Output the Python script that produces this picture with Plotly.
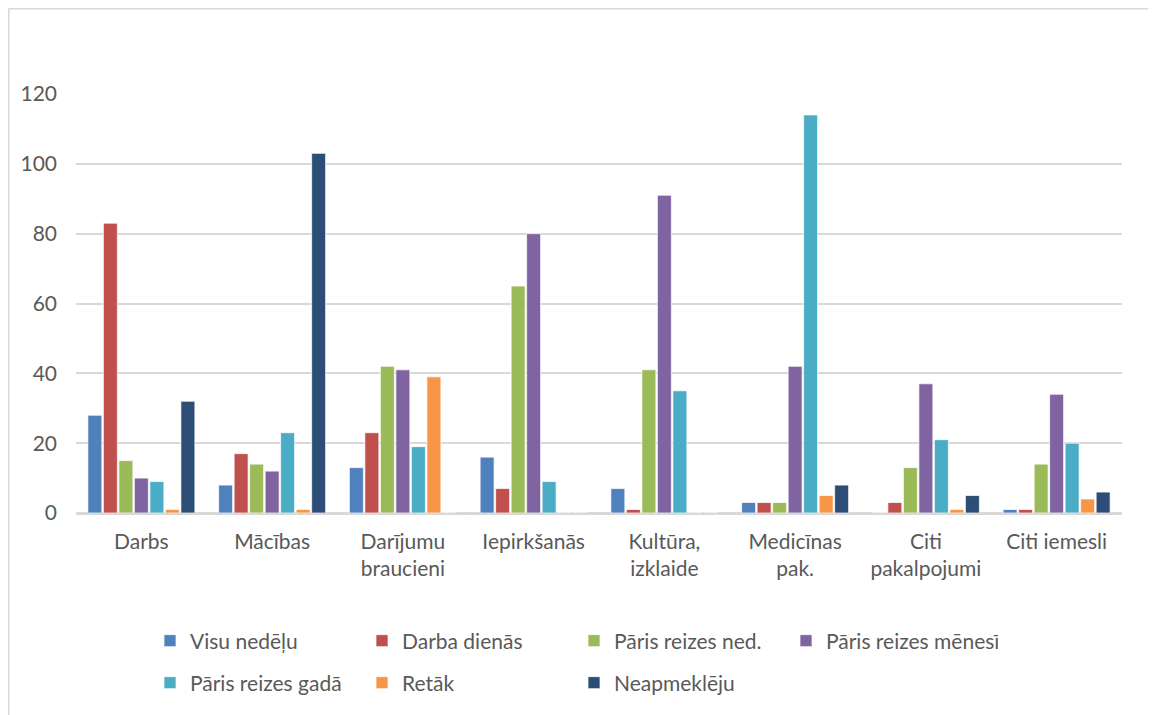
import plotly.graph_objects as go

categories = ["Darbs", "Mācības", "Darījumu<br>braucieni", "Iepirkšanās",
              "Kultūra,<br>izklaide", "Medicīnas<br>pak.", "Citi<br>pakalpojumi", "Citi iemesli"]

series_names = ["Visu nedēļu", "Darba dienās", "Pāris reizes ned.", "Pāris reizes mēnesī",
                "Pāris reizes gadā", "Retāk", "Neapmeklēju"]

visu_nedelu = [28, 8, 13, 16, 7, 3, 0, 1]
darba_dienas = [83, 17, 23, 7, 1, 3, 3, 1]
paris_ned = [15, 14, 42, 65, 41, 3, 13, 14]
paris_menesi = [10, 12, 41, 80, 91, 42, 37, 34]
paris_gada = [9, 23, 19, 9, 35, 114, 21, 20]
retak = [1, 1, 39, 0, 0, 5, 1, 4]
neapmekleju = [32, 103, 0, 0, 0, 8, 5, 6]

y_ticks = [0, 20, 40, 60, 80, 100, 120]

values = [visu_nedelu, darba_dienas, paris_ned, paris_menesi, paris_gada, retak, neapmekleju]
colors = ["#4F81BD", "#C0504D", "#9BBB59", "#8064A2", "#4BACC6", "#F79646", "#2C4D75"]

FONT = "Lato"
TXT = "#595959"
FS = 21

fig = go.Figure()
for i, (name, vals, col) in enumerate(zip(series_names, values, colors)):
    fig.add_trace(go.Bar(
        x=categories, y=vals, name=name,
        marker=dict(color=col, line=dict(color="rgba(255,255,255,0.7)", width=1)),
        legend="legend" if i < 4 else "legend2",
    ))

# page has an 8px body margin: figure coords = page coords - 8
OFF = 8
W, H = 1156 - OFF, 715 - OFF
L, R, T, B = 76 - OFF, W - (1122 - OFF), 94 - OFF, H - (513 - OFF)
pw, ph = W - L - R, H - T - B

def px(x):
    return (x - OFF - L) / pw

def py(y):
    return (H - B - (y - OFF)) / ph

legend_common = dict(
    orientation="h", xanchor="left", yanchor="middle",
    font=dict(family=FONT, size=FS, color=TXT),
    entrywidth=167, entrywidthmode="pixels",
    bgcolor="rgba(0,0,0,0)", itemclick=False, itemdoubleclick=False,
)

fig.update_layout(
    width=W, height=H,
    margin=dict(l=L, r=R, t=T, b=B, autoexpand=False),
    paper_bgcolor="white", plot_bgcolor="white",
    barmode="group", bargap=0.17, bargroupgap=0.1,
    font=dict(family=FONT, size=FS, color=TXT),
    legend=dict(x=px(150), y=py(641), **legend_common),
    legend2=dict(x=px(150), y=py(683), **legend_common),
    xaxis=dict(
        automargin=False,
        showgrid=False, showline=True, linecolor="#D9D9D9", linewidth=1.5,
        ticks="", tickfont=dict(family=FONT, size=FS, color=TXT),
        ticklabelstandoff=9,
    ),
    yaxis=dict(
        automargin=False,
        range=[0, 120], tickvals=y_ticks, showgrid=True, gridcolor="#D9D9D9",
        gridwidth=1.5, zeroline=True, zerolinecolor="#D9D9D9", zerolinewidth=1.5,
        showline=False, ticks="", tickfont=dict(family=FONT, size=FS, color=TXT),
        ticklabelstandoff=18,
    ),
    shapes=[
        dict(type="line", xref="paper", yref="paper", x0=px(8.5), x1=px(1170),
             y0=py(8.5), y1=py(8.5), line=dict(color="#D9D9D9", width=2)),
        dict(type="line", xref="paper", yref="paper", x0=px(8.5), x1=px(8.5),
             y0=py(8.5), y1=py(730), line=dict(color="#D9D9D9", width=2)),
    ],
)

fig.write_html("out.html")
